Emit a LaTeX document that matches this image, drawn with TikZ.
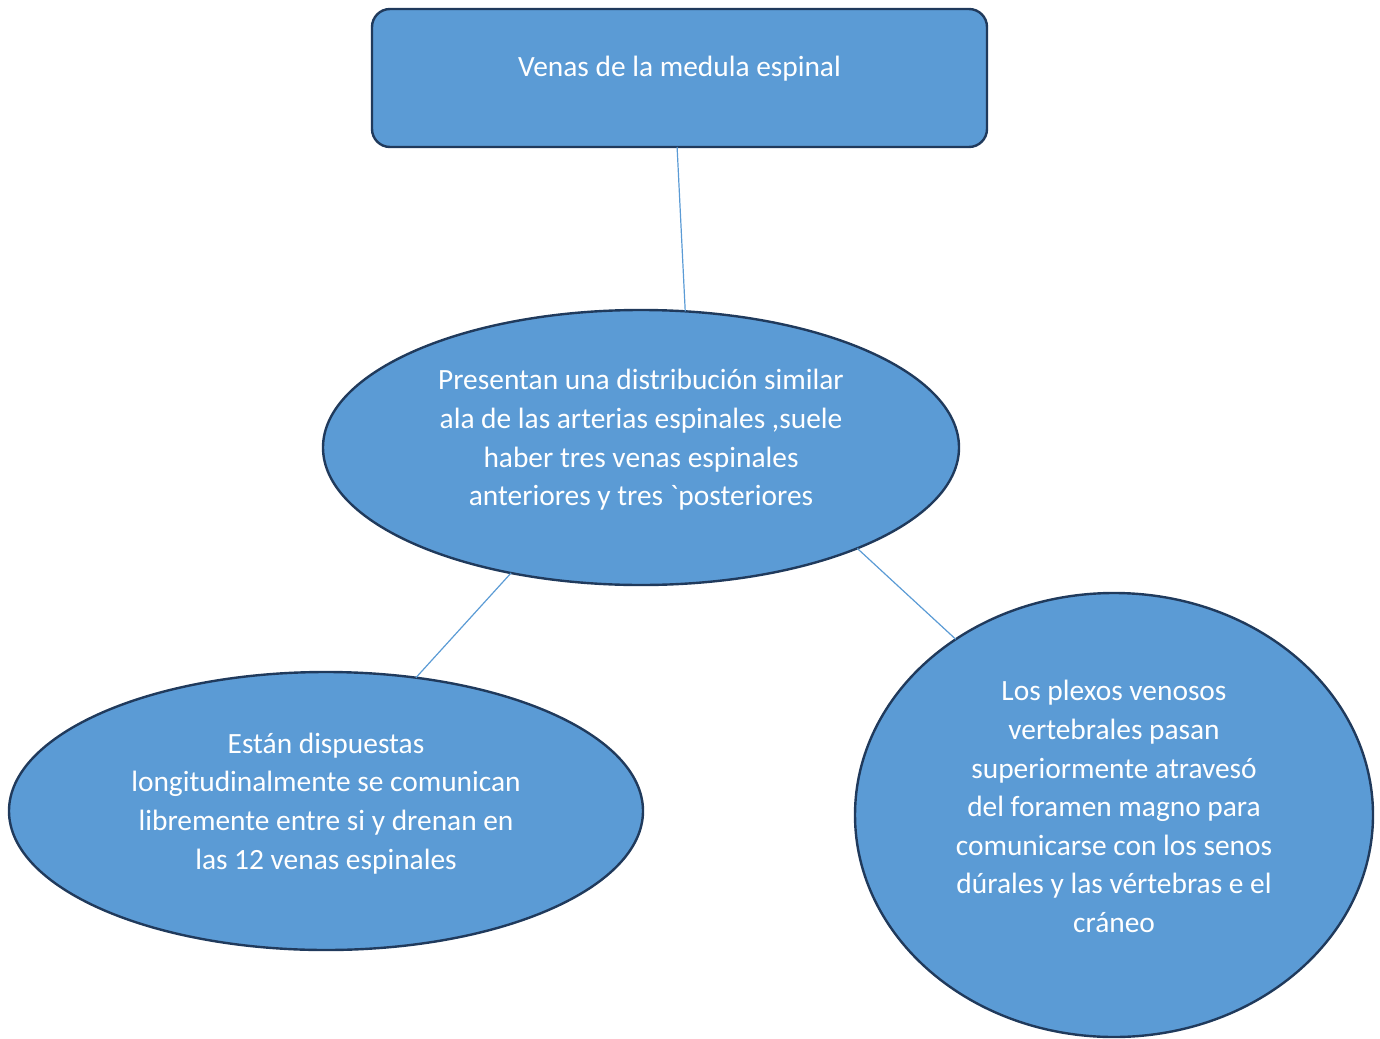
\documentclass[tikz,border=0pt]{standalone}
\usepackage{fontspec}
\setmainfont{Carlito}
\usetikzlibrary{shapes.geometric}
\definecolor{boxfill}{HTML}{5B9BD5}
\definecolor{boxline}{HTML}{203A5C}
\begin{document}
\begin{tikzpicture}[x=1pt,y=-1pt,
  bubble/.style={ellipse, draw=boxline, line width=2.4pt, fill=boxfill, text=white, align=center, inner sep=0pt, outer sep=0pt, font=\fontsize{29.4}{38.6}\selectfont},
  topbox/.style={rectangle, rounded corners=18pt, draw=boxline, line width=2.4pt, fill=boxfill, text=white, inner sep=0pt, outer sep=0pt, font=\fontsize{29.4}{38.6}\selectfont},
  link/.style={draw=boxfill, line width=1.2pt}]
\useasboundingbox (0,0) rectangle (1380,1038);
\node[topbox, minimum width=615pt, minimum height=138pt, text depth=24pt] (ven0) at (679.5,78){Venas de la medula espinal};
\node[bubble, minimum width=636pt, minimum height=275pt, text depth=20pt] (ven1) at (641,447.5){Presentan una distribución similar\\ala de las arterias espinales ,suele\\haber tres venas espinales\\anteriores y tres \textasciigrave posteriores};
\node[bubble, minimum width=634pt, minimum height=278pt, text depth=20pt] (ven2) at (326,811){Están dispuestas\\longitudinalmente se comunican\\libremente entre si y drenan en\\las 12 venas espinales};
\node[bubble, minimum width=518pt, minimum height=444pt, text depth=17pt] (ven3) at (1114,815){Los plexos venosos\\vertebrales pasan\\superiormente atravesó\\del foramen magno para\\comunicarse con los senos\\dúrales y las vértebras e el\\cráneo};
\draw[link] (ven0.-92) -- (ven1.72);
\draw[link] (ven1.224) -- (ven2.56);
\draw[link] (ven1.335) -- (ven3.132);
\end{tikzpicture}
\end{document}
